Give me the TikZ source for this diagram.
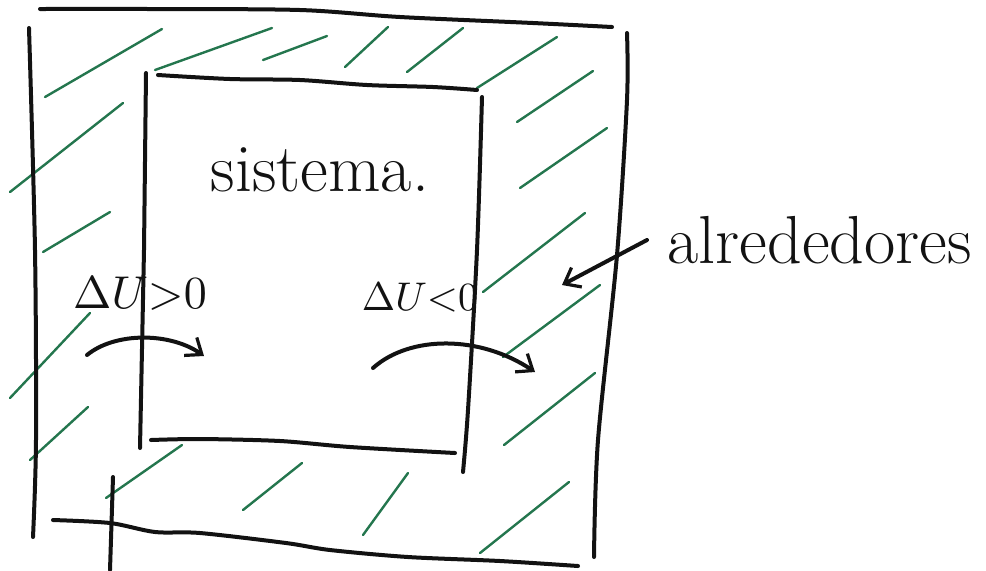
\documentclass[tikz,border=0pt]{standalone}
\usepackage{fontspec}
\usetikzlibrary{arrows.meta}
\definecolor{ink}{RGB}{18,18,18}
\definecolor{hatchgreen}{RGB}{36,118,78}
\begin{document}
\begin{tikzpicture}[x=0.5pt,y=-0.5pt]
  \tikzset{
    wall/.style={draw=ink, line width=2pt, line cap=round, line join=round},
    hatch/.style={draw=hatchgreen, line width=1.2pt, line cap=round},
    flow/.style={draw=ink, line width=2pt, line cap=round,
      -{Straight Barb[length=7pt,width=11pt,line width=1.6pt]}},
    lbl/.style={text=ink, inner sep=0pt},
  }
  \useasboundingbox (0,0) rectangle (986,570);

  % hatching of the surroundings
  \foreach \xa/\ya/\xb/\yb in {
    45/97/162/29,
    155/70/272/28,
    263/60/327/36,
    345/67/388/27,
    407/72/463/28,
    477/88/557/37,
    517/122/593/71,
    520/188/607/128,
    483/292/585/213,
    503/357/600/285,
    504/445/595/373,
    480/553/569/482,
    363/535/408/473,
    243/510/302/463,
    106/498/182/445,
    30/460/88/407,
    10/398/90/313,
    43/252/110/212,
    10/192/123/103
  }{
    \draw[hatch] (\xa,\ya) -- (\xb,\yb);
  }

  % outer walls
  \draw[wall] plot[smooth] coordinates {(40,9) (150,9) (300,10) (400,17) (533,23) (612,27)};
  \draw[wall] plot[smooth] coordinates {(29,28) (35,250) (36,440) (33,537)};
  \draw[wall] plot[smooth] coordinates {(627,33) (627,100) (617,255) (598,440) (594,557)};
  \draw[wall] plot[smooth] coordinates {(53,520) (110,523) (155,532) (200,533) (286,543) (330,550) (408,557) (500,561) (578,566)};
  \draw[wall] (113,477) -- (110,570);

  % system walls
  \draw[wall] (146,73) -- (144,250) -- (140,448);
  \draw[wall] plot[smooth] coordinates {(158,75) (230,79) (300,80) (367,85) (433,87) (477,90)};
  \draw[wall] plot[smooth] coordinates {(482,97) (477,250) (468,410) (463,472)};
  \draw[wall] plot[smooth] coordinates {(151,440) (200,439) (280,441) (350,447) (455,453)};

  % labels
  \node[lbl, font=\fontsize{34}{36}\selectfont] (sys) at (320,170) {sistema.};
  \node[lbl] (gain) at (140,294) {\scalebox{2.3}{$\Delta U{>}0$}};
  \node[lbl] (loss) at (420,298) {\scalebox{2.0}{$\Delta U{<}0$}};
  \node[lbl, anchor=west, font=\fontsize{34}{36}\selectfont] (surr) at (667,240) {alrededores};

  % energy flows
  \coordinate (inA) at (87,355);
  \coordinate (inB) at (204,356);
  \draw[flow] (inA) .. controls (115,332) and (170,332) .. (inB);
  \coordinate (outA) at (373,368);
  \coordinate (outB) at (535,372);
  \draw[flow] (outA) .. controls (410,335) and (480,335) .. (outB);
  \coordinate (surrTip) at (562,285);
  \draw[flow] ([xshift=-10pt]surr.west) -- (surrTip);
\end{tikzpicture}
\end{document}
